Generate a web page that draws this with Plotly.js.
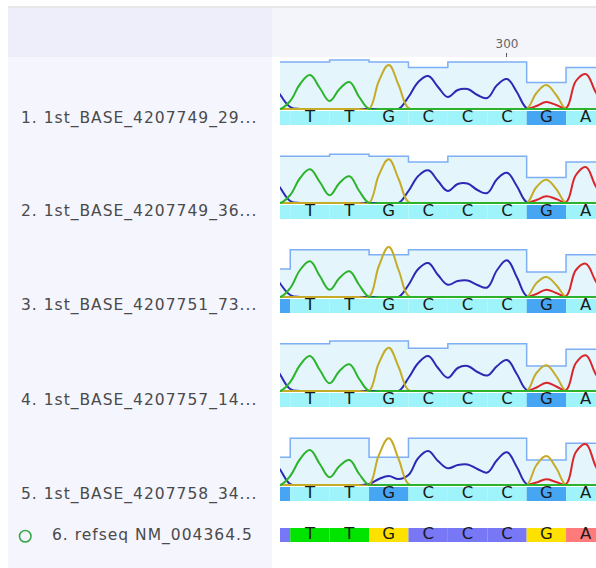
<!DOCTYPE html>
<html><head><meta charset="utf-8">
<script src="https://cdn.plot.ly/plotly-3.0.1.min.js"></script>
<style>html,body{margin:0;padding:0;background:#fff;overflow:hidden}#chart{width:596px;height:568px}
.annotation-text{letter-spacing:1px}</style>
</head><body><div id="chart"></div>
<script>
// ---- data ----
const basePositions = [294, 295, 296, 297, 298, 299, 300, 301, 302];
const refBases = ['C', 'T', 'T', 'G', 'C', 'C', 'C', 'G', 'A'];
const readBases = ['', 'T', 'T', 'G', 'C', 'C', 'C', 'G', 'A'];
const rowLabels = ['1. 1st_BASE_4207749_29...', '2. 1st_BASE_4207749_36...', '3. 1st_BASE_4207751_73...', '4. 1st_BASE_4207757_14...', '5. 1st_BASE_4207758_34...'];
const refLabel = '6. refseq NM_004364.5';
const xTicks = [300];

const highlight1 = [0, 0, 0, 0, 0, 0, 0, 1, 0];
const highlight2 = [0, 0, 0, 0, 0, 0, 0, 1, 0];
const highlight3 = [1, 0, 0, 0, 0, 0, 0, 1, 0];
const highlight4 = [0, 0, 0, 0, 0, 0, 0, 1, 0];
const highlight5 = [1, 0, 0, 1, 0, 0, 0, 1, 0];

const quality1 = [47, 47, 49, 47, 41.5, 47, 47, 26.5, 41.5];
const quality2 = [46.7, 46.7, 48.7, 46.7, 41, 46.7, 46.7, 25.4, 41];
const quality3 = [28, 47.3, 47.3, 42.3, 47.3, 47.3, 47.3, 25, 42.3];
const quality4 = [47.3, 47.3, 50, 50, 42.7, 47.3, 47.3, 25, 41.7];
const quality5 = [27.7, 46.7, 46.7, 27.7, 46.7, 46.7, 46.7, 25, 41.7];

// trace sample positions (quarter-base steps)
const traceX = [294, 294.25, 294.5, 294.75, 295, 295.25, 295.5, 295.75, 296, 296.25, 296.5, 296.75, 297, 297.25, 297.5, 297.75, 298, 298.25, 298.5, 298.75, 299, 299.25, 299.5, 299.75, 300, 300.25, 300.5, 300.75, 301, 301.25, 301.5, 301.75, 302, 302.25, 302.5];

const traceA1 = [0, 0, 0, 0, 0, 0, 0, 0, 0, 0, 0, 0, 0, 0, 0, 0, 0, 0, 0, 0, 0, 0, 0, 0, 0, 0, 0, 3, 7, 4, 1, 28, 35, 17, 2];
const traceC1 = [30, 14, 2, 0, 0, 0, 0, 0, 0, 0, 0, 0, 0, 0, 12, 27, 33, 22, 12, 19, 20, 14, 11, 24, 30, 17, 1, 0, 0, 0, 0, 0, 0, 0, 0];
const traceG1 = [0, 0, 0, 0, 0, 0, 0, 0, 0, 0, 0, 28, 44, 24, 1, 0, 0, 0, 0, 0, 0, 0, 0, 0, 0, 0, 0, 16, 24, 14, 0, 0, 0, 0, 0];
const traceT1 = [0, 0, 8, 25, 34, 21, 8, 20, 27, 12, 0, 0, 0, 0, 0, 0, 0, 0, 0, 0, 0, 0, 0, 0, 0, 0, 0, 0, 0, 0, 0, 0, 0, 0, 0];

const traceA2 = [0, 0, 0, 0, 0, 0, 0, 0, 0, 0, 0, 0, 0, 0, 0, 0, 0, 0, 0, 0, 0, 0, 0, 0, 0, 0, 0, 3, 6.7, 4, 1, 28, 36, 17, 2];
const traceC2 = [30, 15, 2, 0, 0, 0, 0, 0, 0, 0, 0, 0, 0, 0, 12, 27, 32.7, 22, 12, 19, 19.5, 13, 10, 24, 30.3, 17, 1, 0, 0, 0, 0, 0, 0, 0, 0];
const traceG2 = [0, 0, 0, 0, 0, 0, 0, 0, 0, 0, 0, 28, 43.7, 24, 1, 0, 0, 0, 0, 0, 0, 0, 0, 0, 0, 0, 0, 16, 23.3, 14, 0, 0, 0, 0, 0];
const traceT2 = [0, 0, 8, 25, 33.7, 21, 7.7, 20, 26.7, 12, 0, 0, 0, 0, 0, 0, 0, 0, 0, 0, 0, 0, 0, 0, 0, 0, 0, 0, 0, 0, 0, 0, 0, 0, 0];

const traceA3 = [0, 0, 0, 0, 0, 0, 0, 0, 0, 0, 0, 0, 0, 0, 0, 0, 0, 0, 0, 0, 0, 0, 0, 0, 0, 0, 0, 3, 7.3, 4, 1, 27, 33.3, 16, 2];
const traceC3 = [27, 13, 2, 0, 0, 0, 0, 0, 0, 0, 0, 0, 0, 0, 12, 28, 34, 22, 12.3, 16, 16.5, 12, 9.5, 27, 36.7, 20, 1, 0, 0, 0, 0, 0, 0, 0, 0];
const traceG3 = [0, 0, 0, 0, 0, 0, 0, 0, 0, 0, 0, 31, 50, 27, 1, 0, 0, 0, 0, 0, 0, 0, 0, 0, 0, 0, 0, 14, 20, 12, 0, 0, 0, 0, 0];
const traceT3 = [0, 0, 9, 27, 35.7, 21, 7.3, 19, 25.7, 12, 0, 0, 0, 0, 0, 0, 0, 0, 0, 0, 0, 0, 0, 0, 0, 0, 0, 0, 0, 0, 0, 0, 0, 0, 0];

const traceA4 = [0, 0, 0, 0, 0, 0, 0, 0, 0, 0, 0, 0, 0, 0, 0, 0, 0, 0, 0, 0, 0, 0, 0, 0, 0, 0, 0, 3.5, 8.3, 4.5, 1, 28, 35.7, 17, 2];
const traceC4 = [32, 16, 2, 0, 0, 0, 0, 0, 0, 0, 0, 0, 0, 0, 13, 28, 35, 23, 13.3, 23, 25, 19, 15.5, 25, 31, 17, 1, 0, 0, 0, 0, 0, 0, 0, 0];
const traceG4 = [0, 0, 0, 0, 0, 0, 0, 0, 0, 0, 0, 28, 43.3, 24, 1, 0, 0, 0, 0, 0, 0, 0, 0, 0, 0, 0, 0, 18, 25.7, 15, 0, 0, 0, 0, 0];
const traceT4 = [0, 0, 9, 26, 35, 21, 7.7, 20, 26.7, 12, 0, 0, 0, 0, 0, 0, 0, 0, 0, 0, 0, 0, 0, 0, 0, 0, 0, 0, 0, 0, 0, 0, 0, 0, 0];

const traceA5 = [0, 0, 0, 0, 0, 0, 0, 0, 0, 0, 0, 0, 0, 0, 0, 0, 0, 0, 0, 0, 0, 0, 0, 0, 0, 0, 0, 2.5, 5.7, 3, 1, 33, 41, 19, 2];
const traceC5 = [30, 15, 1, 0, 0, 0, 0, 0, 0, 0, 1, 6, 9, 6, 10, 27, 34, 24, 16.7, 20, 20.5, 16, 12.5, 25, 32.7, 18, 1, 0, 0, 0, 0, 0, 0, 0, 0];
const traceG5 = [0, 0, 0, 0, 0, 0, 0, 0, 0, 0, 0, 30, 46.7, 26, 1, 0, 0, 0, 0, 0, 0, 0, 0, 0, 0, 0, 0, 20, 29, 17, 0, 0, 0, 0, 0];
const traceT5 = [0, 0, 9, 26, 35, 21, 7.7, 19, 25, 11, 0, 0, 0, 0, 0, 0, 0, 0, 0, 0, 0, 0, 0, 0, 0, 0, 0, 0, 0, 0, 0, 0, 0, 0, 0];

// ---- styling / layout ----
const W = 596, H = 568;
const rowTops = [111, 205, 299, 393, 487];
const refTop = 528;
const stripH = 14;
const chanColors = {A: '#d8262a', C: '#2a2ab4', G: '#c4ac28', T: '#2bb42b'};
const refColors = {A: '#ff7a7a', C: '#7878f6', G: '#ffe100', T: '#00e400'};
const stripLight = '#9ff4fb', stripDark = '#47a6f3';
const labelFont = {family: 'DejaVu Sans', size: 15.5, color: '#4a4a4a'};
const letterFont = {family: 'DejaVu Sans', size: 16.5, color: '#1a1a1a'};

const rows = [
  {A: traceA1, C: traceC1, G: traceG1, T: traceT1, q: quality1, h: highlight1},
  {A: traceA2, C: traceC2, G: traceG2, T: traceT2, q: quality2, h: highlight2},
  {A: traceA3, C: traceC3, G: traceG3, T: traceT3, q: quality3, h: highlight3},
  {A: traceA4, C: traceC4, G: traceG4, T: traceT4, q: quality4, h: highlight4},
  {A: traceA5, C: traceC5, G: traceG5, T: traceT5, q: quality5, h: highlight5},
];

const py = px => 1 - px / H;
const pxX = px => px / W;

const data = [];
const layout = {
  width: W, height: H,
  margin: {l: 0, r: 0, t: 0, b: 0, pad: 0},
  paper_bgcolor: '#ffffff', plot_bgcolor: 'rgba(0,0,0,0)',
  showlegend: false,
  hovermode: false,
  font: {family: 'DejaVu Sans'},
  barmode: 'overlay',
  xaxis: {
    domain: [pxX(280), 1], range: [294.24, 302.26],
    anchor: 'free', position: py(56.5), side: 'top',
    showgrid: false, zeroline: false, showline: false,
    ticks: 'outside', ticklen: 4, tickwidth: 1, tickcolor: '#555',
    tickvals: xTicks, ticktext: xTicks.map(String),
    tickfont: {family: 'DejaVu Sans', size: 12, color: '#666'}
  },
  shapes: [
    {type: 'rect', xref: 'paper', yref: 'paper', x0: pxX(8), x1: 1, y0: py(8), y1: py(6), fillcolor: '#e7e7ea', line: {width: 0}, layer: 'below'},
    {type: 'rect', xref: 'paper', yref: 'paper', x0: pxX(8), x1: pxX(272), y0: py(57), y1: py(8), fillcolor: '#eeeefa', line: {width: 0}, layer: 'below'},
    {type: 'rect', xref: 'paper', yref: 'paper', x0: pxX(272), x1: 1, y0: py(57), y1: py(8), fillcolor: '#f4f4fb', line: {width: 0}, layer: 'below'},
    {type: 'rect', xref: 'paper', yref: 'paper', x0: pxX(8), x1: pxX(272), y0: 0, y1: py(57), fillcolor: '#f5f5fe', line: {width: 0}, layer: 'below'},
    {type: 'circle', xref: 'paper', yref: 'paper', x0: pxX(19.5), x1: pxX(31), y0: py(542), y1: py(530.5), fillcolor: 'rgba(0,0,0,0)', line: {color: '#3aa84a', width: 1.6}}
  ],
  annotations: []
};

function addStrip(axisIdx, top, colors, letters) {
  const yname = 'y' + axisIdx;
  layout['yaxis' + axisIdx] = {domain: [py(top + stripH), py(top)], range: [0, 1], visible: false, fixedrange: true};
  data.push({type: 'bar', x: basePositions, y: basePositions.map(() => 1), base: 0, width: 1,
    marker: {color: colors, line: {width: 0}}, yaxis: yname, xaxis: 'x', hoverinfo: 'skip'});
  data.push({type: 'scatter', mode: 'text', x: basePositions, y: basePositions.map(() => 0.5), text: letters,
    textposition: 'middle center', textfont: letterFont, cliponaxis: false, yaxis: yname, xaxis: 'x', hoverinfo: 'skip'});
}

rows.forEach((r, i) => {
  const top = rowTops[i];
  const cAx = 2 * i + 1, sAx = 2 * i + 2;
  const cy = cAx === 1 ? 'y' : 'y' + cAx;
  layout[cAx === 1 ? 'yaxis' : 'yaxis' + cAx] = {domain: [py(top - 1), py(top - 61)], range: [-1, 59], visible: false, fixedrange: true};
  data.push({type: 'scatter', mode: 'lines', x: basePositions.map(p => p - 0.5).concat([basePositions[basePositions.length - 1] + 0.5]),
    y: r.q.concat([r.q[r.q.length - 1]]), line: {shape: 'hv', color: '#7eaef3', width: 1.5},
    fill: 'tozeroy', fillcolor: '#e5f5fc', yaxis: cy, xaxis: 'x', hoverinfo: 'skip'});
  ['A', 'C', 'G', 'T'].forEach(ch => {
    data.push({type: 'scatter', mode: 'lines', x: traceX, y: r[ch], line: {shape: 'spline', smoothing: 1.15, color: chanColors[ch], width: 2},
      yaxis: cy, xaxis: 'x', hoverinfo: 'skip'});
  });
  addStrip(sAx, top, r.h.map(v => v ? stripDark : stripLight), readBases);
  layout.annotations.push({xref: 'paper', yref: 'paper', x: pxX(19), y: py(top + 7), xanchor: 'left', yanchor: 'middle',
    text: rowLabels[i], showarrow: false, font: labelFont});
});

addStrip(11, refTop, refBases.map(b => refColors[b]), readBases);
layout.annotations.push({xref: 'paper', yref: 'paper', x: pxX(50), y: py(refTop + 7), xanchor: 'left', yanchor: 'middle',
  text: refLabel, showarrow: false, font: labelFont});

Plotly.newPlot('chart', data, layout, {staticPlot: true, displayModeBar: false});
</script></body></html>
